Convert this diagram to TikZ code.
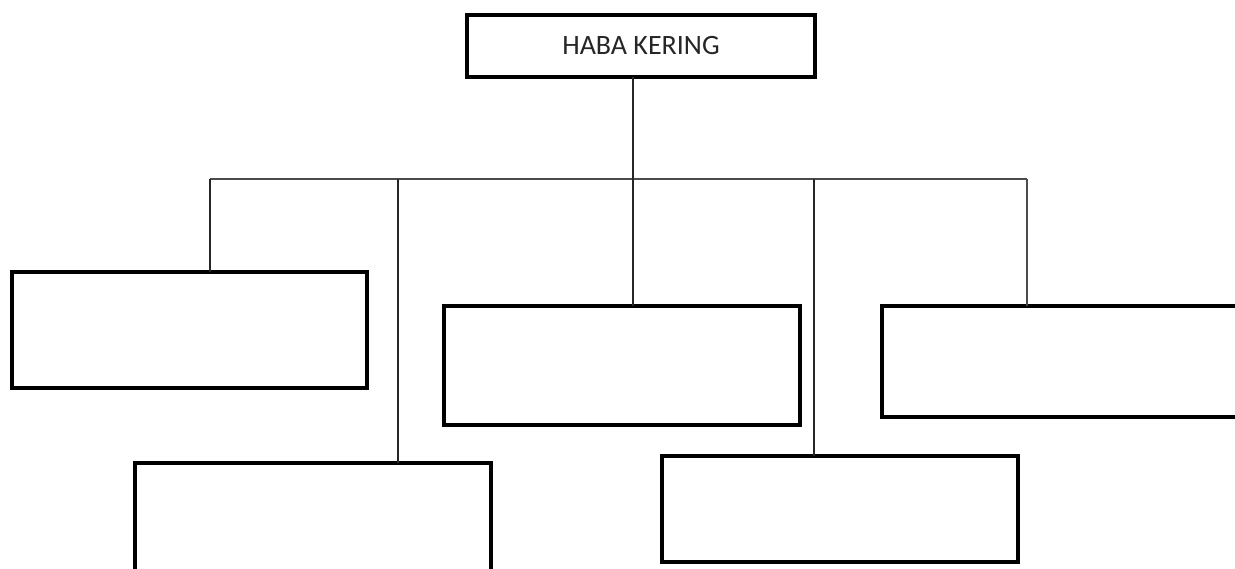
\documentclass[tikz,border=0pt]{standalone}
\usepackage{fontspec}
\setmainfont{Carlito}
\begin{document}
\begin{tikzpicture}[x=1pt,y=-1pt,
  box/.style={draw=black,line width=4pt,fill=white,inner sep=0pt,outer sep=0pt,anchor=north west},
  conn/.style={draw=black!85,line width=1.8pt},
  hline/.style={draw=black!70,line width=1.3pt}]
\useasboundingbox (0,0) rectangle (1235,568);
\fill[white] (0,0) rectangle (1235,568);
\begin{scope}
\clip (0,0) rectangle (1235,568);
% connectors
\coordinate (hl) at (210,179);
\coordinate (hr) at (1027,179);
\draw[hline] (hl) -- (hr);
\node[box,minimum width=348pt,minimum height=62pt,font=\fontsize{28}{30}\selectfont,text=black!85] (top) at (467,15) {HABA KERING};
\node[box,minimum width=355pt,minimum height=116pt] (a) at (12,272) {};
\node[box,minimum width=356pt,minimum height=130pt] (b) at (135,463) {};
\node[box,minimum width=356pt,minimum height=119pt] (c) at (444,306) {};
\node[box,minimum width=356pt,minimum height=106pt] (d) at (662,456) {};
\node[box,minimum width=370pt,minimum height=111pt] (e) at (882,306) {};
\coordinate (j) at (633,179);
\draw[conn] (top.south -| j) -- (j);
\draw[conn] (hl) -- (a.north -| hl);
\draw[conn] (398,179) -- (b.north -| 398,0);
\draw[conn] (j) -- (c.north -| j);
\draw[conn] (814,179) -- (d.north -| 814,0);
\draw[hline] (hr) -- (e.north -| hr);
\end{scope}
\end{tikzpicture}
\end{document}
